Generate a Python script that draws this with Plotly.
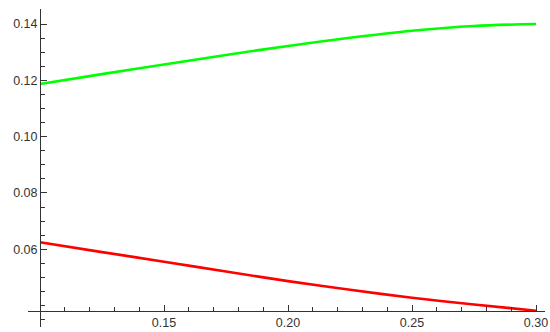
import plotly.graph_objects as go

# values
x_vals = [0.100, 0.125, 0.150, 0.175, 0.200, 0.225, 0.250, 0.275, 0.300]
green_vals = [0.1187, 0.1222, 0.1256, 0.1290, 0.1322, 0.1351, 0.1376, 0.1393, 0.1400]
red_vals = [0.0625, 0.0590, 0.0556, 0.0521, 0.0487, 0.0456, 0.0428, 0.0404, 0.0382]

x_ticks = [0.15, 0.20, 0.25, 0.30]
x_tick_text = ["0.15", "0.20", "0.25", "0.30"]
y_ticks = [0.06, 0.08, 0.10, 0.12, 0.14]
y_tick_text = ["0.06", "0.08", "0.10", "0.12", "0.14"]

# mathematica-ish plot range with padding
x_range = [0.09516, 0.30363]
y_range = [0.03240, 0.14533]
x_origin = min(x_vals)
y_origin = min(red_vals)

axis_col = "#333333"
font = dict(family="Liberation Sans, Arial, sans-serif", size=12.5, color="#333333")

fig = go.Figure()
fig.add_trace(go.Scatter(x=x_vals, y=green_vals, mode="lines",
                         line=dict(color="#00ff00", width=2.6, shape="spline", smoothing=0.8)))
fig.add_trace(go.Scatter(x=x_vals, y=red_vals, mode="lines",
                         line=dict(color="#ff0000", width=2.6, shape="spline", smoothing=0.8)))

fig.update_layout(
    width=550, height=332,
    margin=dict(l=28, r=5, t=9, b=5),
    plot_bgcolor="white", paper_bgcolor="white",
    showlegend=False,
    font=font,
    xaxis=dict(range=x_range, showgrid=False, zeroline=False, automargin=False,
               showline=True, linecolor=axis_col, linewidth=1,
               anchor="free",
               position=(y_origin - y_range[0]) / (y_range[1] - y_range[0]),
               tickmode="array", tickvals=x_ticks, ticktext=x_tick_text,
               ticks="inside", ticklen=6, tickcolor=axis_col, tickwidth=1,
               minor=dict(ticks="inside", ticklen=4, dtick=0.01, tick0=0.1,
                          tickcolor=axis_col, tickwidth=1, showgrid=False)),
    yaxis=dict(range=y_range, showgrid=False, zeroline=False, automargin=False,
               showline=True, linecolor=axis_col, linewidth=1,
               anchor="free",
               position=(x_origin - x_range[0]) / (x_range[1] - x_range[0]),
               tickmode="array", tickvals=y_ticks, ticktext=y_tick_text,
               ticks="inside", ticklen=6, tickcolor=axis_col, tickwidth=1,
               minor=dict(ticks="inside", ticklen=4, dtick=0.005, tick0=0.0,
                          tickcolor=axis_col, tickwidth=1, showgrid=False)),
)

fig.write_html("out.html", config={"displayModeBar": False},
               post_script="document.body.style.margin='0';")
